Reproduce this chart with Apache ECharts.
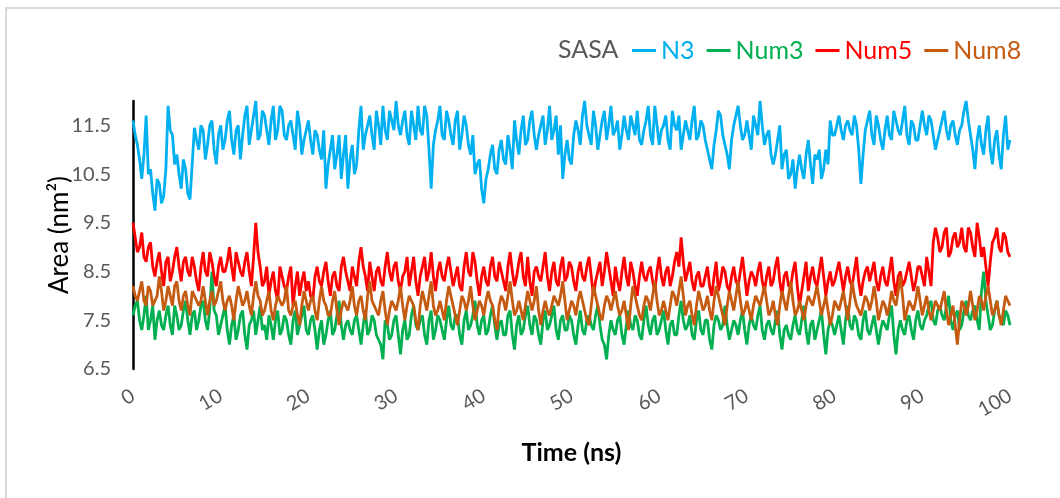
<!DOCTYPE html>
<html>
<head>
<meta charset="utf-8">
<script src="https://cdn.jsdelivr.net/npm/echarts@6/dist/echarts.min.js"></script>
<style>
html,body{margin:0;padding:0;background:#fff;}
#chart{width:1060px;height:498px;}
</style>
</head>
<body>
<div id="chart"></div>
<script>
// ---- data ----
// Samples every 0.5 ns at t = 0, 0.5, ..., 100 ("main") and the in-between
// samples at t = 0.25, 0.75, ..., 99.75 ("mid").
const sampleStep = 0.25; // ns between consecutive samples after merging
const seriesNames = ['N3', 'Num3', 'Num5', 'Num8'];
const xTicks = [0, 10, 20, 30, 40, 50, 60, 70, 80, 90, 100];
const yTickLabels = [6.5, 7.5, 8.5, 9.5, 10.5, 11.5];

const N3 = [
  11.6, 11.1, 10.4, 11.7, 10.6, 9.75, 10.3, 10.05, 11.9, 11.3,
  10.9, 10.2, 10.6, 9.98, 11.45, 11.0, 11.4, 11.1, 11.6, 10.7,
  11.5, 11.2, 11.8, 10.9, 11.5, 11.3, 11.9, 11.4, 12.0, 11.3,
  11.7, 11.1, 11.9, 11.4, 11.8, 11.2, 11.6, 11.0, 11.5, 11.2,
  11.6, 10.9, 11.3, 10.8, 10.2, 11.0, 10.6, 11.3, 10.9, 10.2,
  11.1, 10.7, 11.9, 11.3, 11.7, 11.0, 11.5, 11.9, 11.2, 11.6,
  12.0, 11.3, 11.8, 11.1, 11.5, 11.9, 11.3, 11.7, 10.2, 11.4,
  11.9, 11.2, 11.6, 11.1, 11.8, 11.3, 11.5, 10.9, 10.5, 10.8,
  9.9, 10.6, 11.1, 10.5, 11.2, 10.7, 11.0, 11.6, 10.9, 11.7,
  11.2, 11.8, 11.0, 11.5, 11.1, 11.9, 11.4, 10.9, 10.4, 11.2,
  10.7, 11.6, 11.1, 12.0, 11.3, 11.8, 11.0, 11.6, 11.2, 11.9,
  11.4, 11.0, 11.7, 11.2, 11.5, 11.8, 11.1, 11.6, 11.3, 11.9,
  11.1, 11.5, 11.2, 11.8, 11.4, 11.0, 11.6, 11.2, 11.9, 11.3,
  11.5, 11.0, 10.6, 11.4, 11.7, 11.1, 10.6, 11.5, 11.9, 11.2,
  11.6, 11.0, 11.5, 12.0, 11.1, 11.4, 10.7, 11.2, 10.6, 11.0,
  10.5, 10.2, 10.9, 10.4, 11.2, 10.3, 10.8, 10.4, 11.0, 11.6,
  11.3, 11.7, 11.2, 11.6, 11.3, 11.5, 10.3, 11.4, 11.8, 11.1,
  11.5, 11.0, 11.7, 11.2, 11.6, 11.3, 11.9, 11.1, 11.5, 11.2,
  11.8, 11.3, 11.6, 11.0, 11.4, 11.8, 11.2, 11.6, 11.1, 11.5,
  12.0, 11.3, 10.6, 11.5, 10.9, 11.7, 10.7, 11.4, 10.6, 11.7,
  11.2
];
const N3mid = [
  11.3, 10.8, 10.9, 10.5, 10.1, 10.4, 9.9, 10.6, 11.4, 10.7,
  10.5, 10.8, 10.1, 10.7, 11.2, 11.5, 10.8, 11.5, 11.0, 11.3,
  11.0, 11.6, 11.2, 11.4, 10.8, 11.7, 11.1, 11.7, 11.2, 11.8,
  11.4, 11.6, 11.2, 11.9, 11.3, 11.5, 11.3, 11.8, 10.9, 11.4,
  11.2, 11.4, 11.0, 11.4, 10.7, 11.3, 10.9, 10.4, 11.3, 10.8,
  10.5, 11.4, 11.0, 11.5, 11.3, 11.8, 11.1, 11.4, 11.8, 11.4,
  11.5, 11.6, 11.3, 11.8, 11.2, 11.4, 11.9, 11.0, 11.1, 11.6,
  11.3, 11.8, 11.3, 11.6, 11.0, 11.7, 11.1, 11.3, 10.7, 10.2,
  10.4, 10.9, 10.6, 11.0, 10.8, 11.3, 10.6, 11.2, 11.4, 11.1,
  11.6, 11.3, 11.3, 11.7, 11.4, 11.2, 11.7, 11.5, 10.9, 10.8,
  11.3, 11.4, 11.7, 11.5, 11.1, 11.5, 11.3, 11.8, 11.5, 11.3,
  11.6, 11.3, 11.4, 11.7, 11.3, 11.2, 11.4, 11.9, 11.1, 11.5,
  11.4, 11.7, 11.0, 11.5, 11.7, 11.3, 11.4, 11.6, 11.2, 11.6,
  11.2, 10.8, 11.1, 11.8, 11.3, 10.9, 11.2, 11.7, 11.5, 11.3,
  11.3, 11.7, 11.3, 11.5, 11.3, 10.9, 10.9, 11.5, 10.9, 10.4,
  10.8, 10.6, 10.6, 10.9, 10.7, 10.9, 11.0, 10.6, 10.7, 11.3,
  11.5, 11.4, 11.5, 11.4, 11.7, 11.0, 10.9, 11.6, 11.3, 11.7,
  11.2, 11.4, 11.3, 11.8, 11.4, 11.6, 11.3, 11.6, 11.2, 11.5,
  11.5, 11.7, 11.3, 11.2, 11.6, 11.4, 11.5, 11.3, 11.4, 11.8,
  11.6, 11.0, 11.2, 11.1, 11.4, 11.0, 11.2, 10.9, 11.3, 11.0
];

const Num3 = [
  7.6, 7.9, 7.3, 8.0, 7.5, 7.1, 7.7, 7.3, 7.8, 7.2,
  7.6, 7.4, 7.9, 7.2, 7.7, 7.5, 7.9, 7.3, 8.5, 7.6,
  7.4, 7.8, 7.0, 7.6, 7.3, 7.7, 6.9, 7.5, 7.2, 7.8,
  7.4, 7.6, 7.1, 7.7, 7.3, 7.5, 7.0, 7.7, 7.4, 7.8,
  7.2, 7.6, 6.9, 7.5, 7.2, 7.7, 7.3, 7.9, 7.1, 7.5,
  7.2, 7.6, 7.0, 7.7, 7.3, 7.5, 7.1, 6.7, 7.4, 7.2,
  7.6, 6.8, 7.5, 7.2, 7.8, 7.3, 7.6, 7.0, 7.7, 7.3,
  7.5, 7.1, 7.8, 7.3, 7.6, 7.0, 7.7, 7.4, 7.9, 7.2,
  7.6, 7.3, 7.8, 7.1, 7.5, 7.2, 7.7, 6.9, 7.6, 7.3,
  7.8, 7.2, 7.5, 7.0, 7.7, 7.4, 7.8, 7.1, 7.6, 7.3,
  7.5, 7.0, 7.7, 7.2, 7.6, 7.3, 7.8, 7.1, 6.7, 7.5,
  7.2, 7.6, 7.0, 7.7, 7.3, 7.5, 7.1, 7.8, 7.2, 7.6,
  7.3, 7.7, 7.0, 7.5, 7.2, 7.9, 7.3, 7.6, 7.1, 7.7,
  7.2, 7.5, 6.9, 7.6, 7.3, 7.8, 7.1, 7.5, 7.2, 7.7,
  7.0, 7.6, 7.3, 7.8, 7.1, 7.5, 7.2, 7.7, 6.9, 7.4,
  7.1, 7.6, 7.2, 7.8, 7.0, 7.5, 7.3, 7.7, 6.8, 7.5,
  7.2, 7.6, 7.0, 7.8, 7.3, 7.5, 7.1, 7.7, 7.2, 7.6,
  7.0, 7.5, 7.3, 7.8, 6.8, 7.5, 7.2, 7.6, 7.1, 7.7,
  7.3, 7.6, 7.9, 7.4, 7.8, 7.5, 8.0, 7.3, 7.7, 7.4,
  7.9, 7.5, 7.8, 7.3, 8.5, 7.6, 7.4, 7.9, 7.5, 7.7,
  7.4
];
const Num3mid = [
  7.8, 7.5, 7.6, 7.3, 7.8, 7.5, 7.4, 7.6, 7.4, 7.8,
  7.3, 7.7, 7.5, 7.6, 7.3, 7.8, 7.5, 7.7, 7.7, 7.2,
  7.6, 7.3, 7.4, 7.1, 7.6, 7.2, 7.4, 7.7, 7.5, 7.3,
  7.1, 7.4, 7.5, 7.2, 7.6, 7.2, 7.5, 7.2, 7.6, 7.3,
  7.5, 7.3, 7.3, 7.0, 7.5, 7.2, 7.6, 7.4, 7.4, 7.3,
  7.5, 7.3, 7.4, 7.2, 7.6, 7.2, 7.0, 7.5, 7.1, 7.5,
  7.2, 7.3, 7.1, 7.6, 7.4, 7.5, 7.2, 7.5, 7.1, 7.6,
  7.3, 7.5, 7.4, 7.6, 7.2, 7.5, 7.3, 7.6, 7.4, 7.5,
  7.2, 7.6, 7.4, 7.4, 7.2, 7.6, 7.2, 7.4, 7.2, 7.6,
  7.4, 7.6, 7.2, 7.5, 7.3, 7.6, 7.3, 7.5, 7.3, 7.6,
  7.2, 7.4, 7.3, 7.5, 7.4, 7.6, 7.4, 7.0, 7.2, 7.3,
  7.5, 7.2, 7.4, 7.4, 7.6, 7.2, 7.5, 7.4, 7.5, 7.2,
  7.5, 7.3, 7.4, 7.2, 7.6, 7.5, 7.4, 7.2, 7.5, 7.3,
  7.5, 7.1, 7.4, 7.5, 7.4, 7.4, 7.3, 7.4, 7.5, 7.3,
  7.4, 7.4, 7.6, 7.3, 7.4, 7.3, 7.5, 7.2, 7.3, 7.2,
  7.4, 7.3, 7.5, 7.3, 7.4, 7.1, 7.5, 7.2, 7.3, 7.4,
  7.4, 7.3, 7.5, 7.4, 7.6, 7.2, 7.5, 7.3, 7.4, 7.3,
  7.3, 7.4, 7.6, 7.2, 7.3, 7.3, 7.5, 7.3, 7.5, 7.4,
  7.5, 7.8, 7.5, 7.7, 7.6, 7.8, 7.5, 7.6, 7.3, 7.7,
  7.6, 7.7, 7.5, 8.1, 7.9, 7.3, 7.7, 7.6, 7.4, 7.6
];

const Num5 = [
  9.5, 8.9, 9.3, 8.7, 9.1, 8.4, 8.9, 8.2, 8.8, 8.5,
  9.0, 8.3, 8.8, 8.4, 8.6, 8.1, 8.9, 8.4, 8.7, 8.2,
  8.8, 8.5, 9.0, 8.3, 8.7, 8.4, 8.9, 8.2, 9.5, 8.6,
  8.3, 8.0, 8.5, 7.9, 8.4, 8.1, 8.6, 8.2, 8.0, 8.5,
  8.3, 7.9, 8.6, 8.2, 8.7, 8.0, 8.5, 8.1, 8.8, 8.3,
  8.6, 8.2, 9.0, 8.4, 8.7, 8.1, 8.6, 8.2, 8.9, 8.3,
  8.7, 8.1, 8.5, 8.2, 8.8, 8.0, 8.6, 8.3, 8.9, 8.1,
  8.7, 8.3, 8.8, 8.2, 8.6, 8.1, 8.9, 8.4, 8.7, 8.0,
  8.6, 8.2, 8.8, 8.3, 8.5, 8.1, 8.9, 8.2, 8.7, 8.4,
  8.8, 8.0, 8.6, 8.3, 8.9, 8.1, 8.7, 8.2, 8.8, 8.4,
  8.6, 8.1, 8.7, 8.3, 8.8, 8.0, 8.5, 8.2, 8.9, 8.3,
  8.6, 8.1, 8.8, 8.2, 8.5, 8.0, 8.7, 8.3, 8.6, 8.1,
  8.8, 8.2, 8.6, 8.4, 8.9, 9.2, 8.3, 8.7, 8.1, 8.5,
  8.2, 8.6, 8.0, 8.7, 8.3, 8.5, 8.1, 8.6, 8.2, 8.8,
  8.0, 8.5, 8.2, 8.7, 8.1, 8.6, 8.3, 8.8, 8.0, 8.5,
  8.2, 8.7, 7.8, 8.4, 8.1, 8.6, 8.2, 8.8, 8.0, 8.5,
  8.3, 8.7, 8.1, 8.6, 8.2, 8.8, 8.0, 8.5, 8.3, 8.7,
  8.1, 8.6, 8.2, 8.8, 8.0, 8.5, 8.3, 8.7, 8.1, 8.6,
  8.4, 8.8, 8.2, 9.4, 8.9, 9.3, 8.8, 9.2, 9.0, 9.4,
  8.9, 9.3, 8.8, 9.2, 9.0, 8.2, 9.1, 9.4, 8.9, 9.2,
  8.8
];
const Num5mid = [
  9.2, 9.0, 8.8, 9.0, 8.6, 8.7, 8.5, 8.7, 8.3, 8.8,
  8.6, 8.7, 8.5, 8.8, 8.3, 8.6, 8.5, 8.9, 8.4, 8.6,
  8.5, 8.7, 8.6, 8.9, 8.5, 8.7, 8.5, 8.8, 8.9, 8.2,
  8.6, 8.3, 8.1, 8.6, 8.2, 8.4, 7.8, 8.5, 8.3, 8.1,
  8.0, 8.4, 8.3, 8.5, 8.3, 8.4, 8.2, 8.6, 8.5, 8.1,
  8.4, 8.7, 8.6, 8.1, 8.4, 8.5, 8.3, 8.6, 8.5, 8.6,
  8.3, 8.4, 8.8, 8.5, 8.3, 8.4, 8.8, 8.5, 8.4, 8.5,
  8.4, 8.6, 8.5, 8.4, 8.2, 8.6, 8.5, 8.9, 8.3, 8.4,
  8.3, 8.6, 8.4, 8.7, 8.3, 8.6, 8.5, 8.4, 8.9, 8.2,
  8.3, 8.5, 8.4, 8.6, 8.4, 8.5, 8.3, 8.6, 8.3, 8.7,
  8.3, 8.5, 8.4, 8.6, 8.4, 8.3, 8.7, 8.5, 8.6, 8.0,
  8.3, 8.5, 8.4, 8.7, 8.2, 8.4, 8.4, 8.5, 8.3, 8.5,
  8.4, 8.5, 8.2, 8.7, 8.6, 8.7, 8.5, 8.3, 8.4, 8.2,
  8.4, 8.2, 8.4, 8.1, 8.6, 8.2, 8.4, 8.3, 8.5, 8.4,
  8.3, 8.4, 8.5, 8.3, 8.4, 8.2, 8.6, 8.3, 8.4, 8.2,
  8.5, 8.2, 8.1, 8.7, 8.4, 8.3, 8.5, 8.4, 8.3, 8.2,
  8.5, 8.4, 8.4, 8.3, 8.5, 8.3, 8.3, 8.6, 8.5, 8.3,
  8.4, 8.3, 8.5, 8.3, 8.4, 8.2, 8.5, 8.4, 8.3, 8.6,
  8.2, 8.5, 9.1, 9.2, 9.0, 9.4, 8.9, 9.3, 9.1, 9.0,
  9.4, 9.0, 9.5, 8.8, 8.6, 8.7, 9.2, 9.0, 9.3, 8.9
];

const Num8 = [
  8.2, 7.9, 8.3, 7.8, 8.1, 7.9, 8.4, 7.7, 8.2, 7.8,
  8.3, 7.7, 8.1, 7.6, 8.0, 7.8, 8.2, 7.6, 8.1, 7.9,
  8.3, 7.7, 8.0, 7.5, 8.2, 7.8, 8.1, 7.6, 8.3, 7.9,
  7.7, 8.1, 7.5, 8.0, 7.8, 8.2, 7.6, 7.9, 7.4, 8.1,
  7.7, 8.0, 7.5, 8.2, 7.8, 7.6, 8.1, 7.4, 7.9, 7.7,
  8.2, 7.6, 8.0, 7.5, 8.3, 7.8, 7.6, 8.1, 7.4, 7.9,
  7.7, 8.2, 7.5, 8.0, 7.8, 7.3, 8.1, 7.7, 8.3, 7.6,
  7.9, 7.5, 8.2, 7.8, 7.4, 8.0, 7.7, 8.2, 7.5, 7.9,
  7.6, 8.1, 7.8, 7.3, 8.0, 7.7, 8.3, 7.6, 7.9, 7.5,
  8.1, 7.7, 8.2, 7.4, 7.9, 7.6, 8.0, 7.8, 8.3, 7.5,
  7.9, 7.6, 8.1, 7.7, 7.4, 8.2, 7.8, 7.5, 8.0, 7.7,
  8.1, 7.6, 7.9, 7.3, 8.2, 7.8, 7.5, 8.0, 7.7, 8.3,
  7.6, 7.9, 7.5, 8.1, 7.8, 8.4, 7.6, 7.9, 7.4, 8.1,
  7.7, 8.0, 7.5, 8.2, 7.8, 7.4, 8.1, 7.7, 8.3, 7.6,
  7.9, 7.5, 8.0, 7.8, 8.2, 7.6, 7.9, 7.4, 8.1, 7.7,
  8.3, 7.6, 7.9, 7.5, 8.0, 7.8, 8.2, 7.6, 8.0, 7.4,
  7.9, 7.7, 8.1, 7.5, 8.3, 7.8, 7.6, 8.0, 7.7, 8.2,
  7.5, 7.9, 7.6, 8.1, 7.8, 8.4, 7.5, 7.9, 7.7, 8.2,
  7.6, 8.0, 7.5, 7.9, 7.7, 8.1, 7.4, 7.8, 7.0, 7.9,
  7.6, 8.1, 7.5, 8.0, 7.7, 8.2, 7.6, 7.9, 7.4, 8.0,
  7.8
];
const Num8mid = [
  8.0, 8.1, 7.9, 8.2, 7.8, 8.0, 8.1, 7.9, 8.0, 8.2,
  7.9, 8.0, 7.8, 8.1, 7.9, 7.9, 7.9, 7.9, 7.8, 8.1,
  7.9, 7.9, 7.8, 7.9, 8.0, 7.9, 7.8, 8.0, 8.0, 7.6,
  7.9, 7.7, 7.8, 7.9, 7.9, 7.7, 7.8, 7.6, 7.8, 7.9,
  7.9, 7.7, 7.9, 7.9, 7.6, 7.9, 7.7, 7.7, 7.8, 7.9,
  7.8, 7.9, 7.7, 8.0, 7.9, 7.7, 7.9, 7.7, 7.7, 7.8,
  7.9, 7.8, 7.8, 7.9, 7.5, 7.8, 7.9, 8.0, 7.8, 7.7,
  7.7, 7.9, 8.0, 7.6, 7.7, 7.9, 7.9, 7.8, 7.7, 7.8,
  7.9, 7.9, 7.5, 7.8, 7.9, 8.0, 7.9, 7.7, 7.7, 7.8,
  7.9, 7.9, 7.7, 7.7, 7.7, 7.8, 7.9, 8.0, 7.9, 7.7,
  7.8, 7.9, 7.9, 7.5, 7.8, 8.0, 7.6, 7.8, 7.9, 7.9,
  7.8, 7.7, 7.6, 7.8, 8.0, 7.6, 7.8, 7.9, 8.0, 7.9,
  7.7, 7.7, 7.8, 8.0, 8.1, 8.0, 7.8, 7.6, 7.8, 7.9,
  7.8, 7.7, 7.9, 8.0, 7.6, 7.8, 7.9, 8.0, 7.9, 7.7,
  7.7, 7.8, 7.9, 8.0, 7.9, 7.7, 7.6, 7.8, 7.9, 8.0,
  7.9, 7.7, 7.7, 7.8, 7.9, 8.0, 7.9, 7.8, 7.7, 7.6,
  7.8, 7.9, 7.8, 7.9, 8.0, 7.7, 7.8, 7.9, 7.9, 7.9,
  7.7, 7.8, 7.8, 7.9, 8.1, 8.0, 7.7, 7.8, 7.9, 7.9,
  7.8, 7.7, 7.7, 7.8, 7.9, 7.7, 7.6, 7.4, 7.5, 7.8,
  7.8, 7.8, 7.7, 7.9, 8.0, 7.9, 7.7, 7.6, 7.7, 7.9
];

const seriesColors = ['#00B0F0', '#00B050', '#FF0000', '#C55A11'];
// -------------------------------------------------

const mainArrays = [N3, Num3, Num5, Num8];
const midArrays = [N3mid, Num3mid, Num5mid, Num8mid];
function merge(main, mid) {
  const out = [];
  for (let i = 0; i < main.length; i++) {
    out.push(main[i]);
    if (i < mid.length) out.push(mid[i]);
  }
  return out.map((v, k) => [k * sampleStep, v]);
}

const chart = echarts.init(document.getElementById('chart'), null, { renderer: 'canvas' });
const FONT = 'Lato, "Open Sans", sans-serif';

const option = {
  animation: false,
  backgroundColor: '#ffffff',
  textStyle: { fontFamily: FONT },
  graphic: [{
    type: 'rect',
    shape: { x: 6, y: 8, width: 1100, height: 600 },
    style: { fill: 'none', stroke: '#d9d9d9', lineWidth: 2 },
    silent: true
  }],
  title: {
    text: 'SASA',
    left: 553,
    top: 32,
    textStyle: { fontFamily: FONT, fontSize: 25, fontWeight: 'normal', color: '#595959' }
  },
  legend: {
    left: 627,
    top: 33,
    icon: 'rect',
    itemWidth: 24,
    itemHeight: 3,
    itemGap: 12,
    textStyle: { fontFamily: FONT, fontSize: 25 },
    data: seriesNames.map((n, i) => ({ name: n, textStyle: { color: seriesColors[i] } }))
  },
  grid: { left: 133, right: 50, top: 101, bottom: 129 },
  xAxis: {
    type: 'value',
    min: xTicks[0],
    max: xTicks[xTicks.length - 1],
    interval: xTicks[1] - xTicks[0],
    name: 'Time (ns)',
    nameLocation: 'middle',
    nameGap: 71,
    nameTextStyle: { fontFamily: FONT, fontSize: 25, fontWeight: 'bold', color: '#000' },
    axisLine: { show: false },
    axisTick: { show: false },
    splitLine: { show: false },
    axisLabel: { rotate: 30, margin: 25, fontSize: 20, color: '#595959', fontFamily: FONT }
  },
  yAxis: {
    type: 'value',
    min: 6.5,
    max: 12,
    interval: 0.5,
    name: 'Area (nm²)',
    nameLocation: 'middle',
    nameGap: 60,
    nameMoveOverlap: false,
    nameTextStyle: { fontFamily: FONT, fontSize: 26, color: '#000' },
    axisLine: { show: true, lineStyle: { color: '#000', width: 2.5 } },
    axisTick: { show: false },
    splitLine: { show: false },
    axisLabel: {
      margin: 22, fontSize: 20, color: '#595959', fontFamily: FONT,
      formatter: v => (yTickLabels.some(t => Math.abs(t - v) < 1e-6) ? String(v) : '')
    }
  },
  series: seriesNames.map((n, i) => ({
    name: n,
    type: 'line',
    data: merge(mainArrays[i], midArrays[i]),
    showSymbol: false,
    symbol: 'none',
    lineStyle: { color: seriesColors[i], width: 2.8 },
    itemStyle: { color: seriesColors[i] },
    z: 2 + i
  }))
};
chart.setOption(option);
</script>
</body>
</html>
